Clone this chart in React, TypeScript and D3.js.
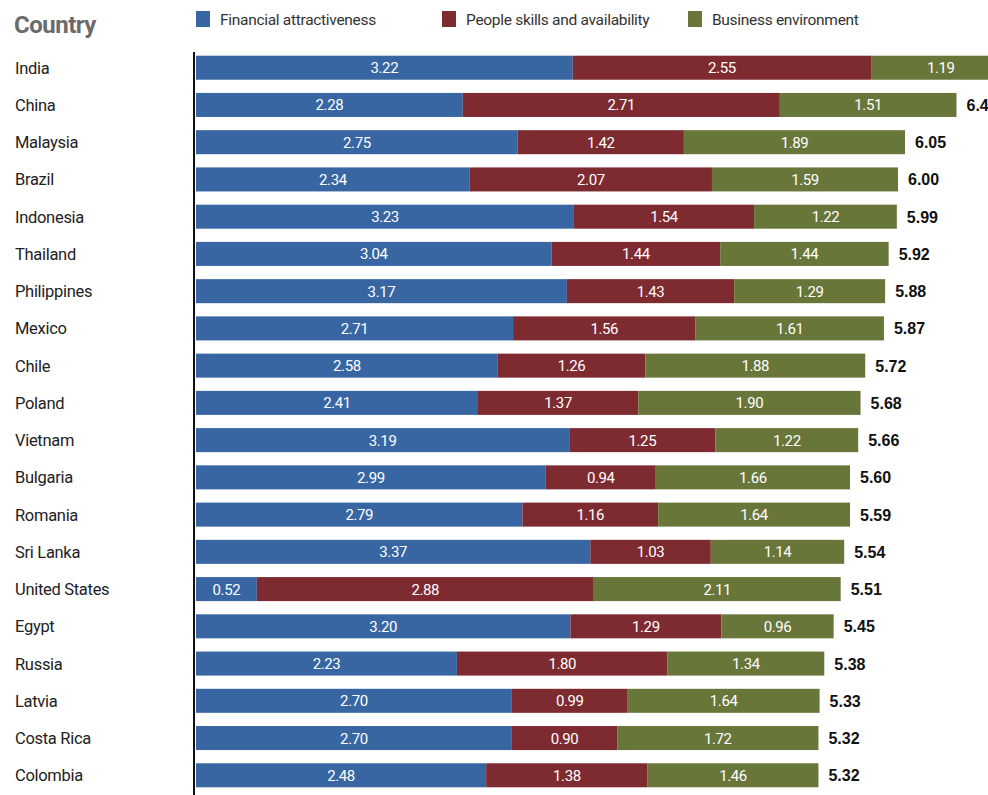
import React from "react";
import * as d3 from "d3";

const countries = ["India","China","Malaysia","Brazil","Indonesia","Thailand","Philippines","Mexico","Chile","Poland","Vietnam","Bulgaria","Romania","Sri Lanka","United States","Egypt","Russia","Latvia","Costa Rica","Colombia"];
const financial = [3.22,2.28,2.75,2.34,3.23,3.04,3.17,2.71,2.58,2.41,3.19,2.99,2.79,3.37,0.52,3.20,2.23,2.70,2.70,2.48];
const people = [2.55,2.71,1.42,2.07,1.54,1.44,1.43,1.56,1.26,1.37,1.25,0.94,1.16,1.03,2.88,1.29,1.80,0.99,0.90,1.38];
const business = [1.19,1.51,1.89,1.59,1.22,1.44,1.29,1.61,1.88,1.90,1.22,1.66,1.64,1.14,2.11,0.96,1.34,1.64,1.72,1.46];
const totals = [6.96,6.49,6.05,6.00,5.99,5.92,5.88,5.87,5.72,5.68,5.66,5.60,5.59,5.54,5.51,5.45,5.38,5.33,5.32,5.32];
const seriesNames = ["Financial attractiveness","People skills and availability","Business environment"];
const colors = ["#3866a2","#7e2a31","#69763a"];

export default function App() {
  const W = 988, H = 795;
  const x = d3.scaleLinear().domain([0, 1]).range([196, 196 + 117]);
  const y = d3.scaleBand<string>().domain(countries).range([49, 794]).paddingInner(0.355).paddingOuter(0.18);
  const bw = y.bandwidth();
  const rows = countries.map((c, i) => ({ c, vals: [financial[i], people[i], business[i]], total: totals[i] }));
  const legendX = [196, 442, 688];
  const font = "Roboto, 'Liberation Sans', Arial, sans-serif";
  return (
    <svg width={W} height={H} style={{ position: "absolute", left: 0, top: 0, background: "#fff" }}>
      <text x={14} y={33} fontFamily={font} fontSize={24} fontWeight={700} fill="#6b6b6b" letterSpacing={-0.5}>Country</text>
      {seriesNames.map((s, i) => (
        <g key={s}>
          <rect x={legendX[i]} y={11} width={14} height={16} fill={colors[i]} />
          <text x={legendX[i] + 24} y={25} fontFamily={font} fontSize={15.5} fill="#333" letterSpacing={-0.3}>{s}</text>
        </g>
      ))}
      {rows.map((r) => {
        const yc = (y(r.c) as number) + bw / 2;
        let acc = 0;
        return (
          <g key={r.c}>
            <text x={15} y={yc + 6} fontFamily={font} fontSize={16.5} fill="#222" letterSpacing={-0.3}>{r.c}</text>
            {r.vals.map((v, k) => {
              const x0 = x(acc), x1 = x(acc + v);
              acc += v;
              return (
                <g key={k}>
                  <rect x={x0} y={y(r.c)} width={x1 - x0} height={bw} fill={colors[k]} />
                  <text x={(x0 + x1) / 2} y={yc + 5.5} textAnchor="middle" fontFamily={font} fontSize={15} fill="#fff" letterSpacing={-0.4}>{v.toFixed(2)}</text>
                </g>
              );
            })}
            <text x={x(acc) + 10} y={yc + 6} fontFamily="'Liberation Sans', Arial, sans-serif" fontSize={16} fontWeight={700} fill="#111">{r.total.toFixed(2)}</text>
          </g>
        );
      })}
      <line x1={194} x2={194} y1={52} y2={795} stroke="#111" strokeWidth={2} />
    </svg>
  );
}
